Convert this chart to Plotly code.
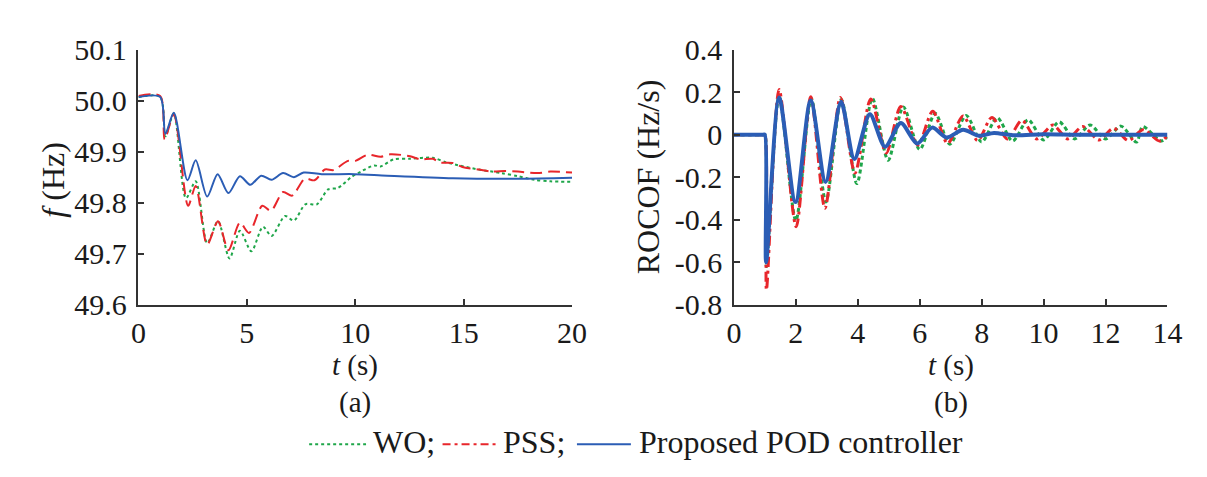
import plotly.graph_objects as go

# ---------------- data: (a) frequency ----------------
t_pod_f = [0, 1.0, 1.24, 1.63, 2.26, 2.64, 3.17, 3.65, 4.15, 4.68, 5.16, 5.66, 6.14, 6.67, 7.17, 7.62, 8.45, 9.96, 11.47, 14.5, 17.5, 20]
f_pod = [50.007, 50.007, 49.935, 49.976, 49.844, 49.883, 49.812, 49.856, 49.819, 49.852, 49.835, 49.853, 49.845, 49.858, 49.850, 49.859, 49.856, 49.856, 49.853, 49.848, 49.847, 49.849]

t_pss_f = [0, 1.0, 1.21, 1.63, 2.29, 2.64, 3.17, 3.67, 4.15, 4.68, 5.10, 5.71, 6.11, 6.67, 7.09, 7.67, 8.12, 8.6, 9.0, 9.66, 10.0, 10.57, 11.17, 11.62, 12.53, 12.98, 13.58, 13.89, 14.49, 14.94, 15.7, 16.3, 16.9, 17.5, 18.4, 19.0, 20]
f_pss = [50.009, 50.009, 49.924, 49.973, 49.794, 49.833, 49.718, 49.764, 49.707, 49.761, 49.741, 49.794, 49.784, 49.821, 49.814, 49.847, 49.844, 49.865, 49.864, 49.882, 49.882, 49.894, 49.890, 49.895, 49.891, 49.885, 49.886, 49.879, 49.878, 49.870, 49.865, 49.861, 49.862, 49.861, 49.858, 49.861, 49.859]

t_wo_f = [0, 1.0, 1.24, 1.63, 2.19, 2.64, 3.17, 3.67, 4.2, 4.68, 5.21, 5.74, 6.14, 6.76, 7.17, 7.7, 8.23, 8.75, 9.2, 9.81, 10.26, 10.87, 11.17, 11.77, 12.53, 13.58, 14.19, 14.79, 15.7, 16.75, 17.5, 18.26, 19.0, 20]
f_wo = [50.007, 50.007, 49.930, 49.975, 49.809, 49.842, 49.721, 49.764, 49.691, 49.745, 49.705, 49.753, 49.735, 49.774, 49.765, 49.797, 49.797, 49.826, 49.829, 49.850, 49.861, 49.873, 49.871, 49.885, 49.886, 49.888, 49.879, 49.873, 49.865, 49.858, 49.852, 49.845, 49.842, 49.841]

# ---------------- data: (b) ROCOF ----------------
t_pod_r = [0, 0.95, 1.0, 1.04, 1.46, 1.99, 2.48, 2.96, 3.46, 3.89, 4.39, 4.88, 5.39, 5.92, 6.40, 6.87, 7.4, 7.9, 8.4, 9.0, 10.0, 11.0, 12.0, 13.0, 14.0]
r_pod = [0, 0, 0, -0.60, 0.175, -0.317, 0.161, -0.223, 0.154, -0.115, 0.096, -0.057, 0.055, -0.042, 0.033, -0.013, 0.023, -0.005, 0.008, -0.003, 0.002, 0.0, 0.0, 0.0, 0.0]

t_pss_r = [0, 0.95, 1.0, 1.05, 1.46, 2.01, 2.48, 2.94, 3.44, 3.91, 4.42, 4.92, 5.39, 5.94, 6.42, 6.9, 7.4, 7.87, 8.33, 8.83, 9.3, 9.78, 10.3, 10.78, 11.26, 11.79, 12.26, 12.74, 13.21, 13.74, 14.0]
r_pss = [0, 0, 0, -0.73, 0.212, -0.433, 0.178, -0.346, 0.175, -0.18, 0.168, -0.086, 0.132, -0.049, 0.11, -0.042, 0.088, -0.028, 0.081, -0.02, 0.067, -0.02, 0.045, -0.02, 0.038, -0.025, 0.03, -0.028, 0.023, -0.03, -0.006]

t_wo_r = [0, 0.95, 1.0, 1.05, 1.46, 2.0, 2.5, 2.97, 3.47, 3.97, 4.47, 4.98, 5.47, 6.0, 6.5, 6.97, 7.5, 8.0, 8.5, 9.0, 9.5, 10.0, 10.5, 11.0, 11.5, 12.0, 12.5, 13.0, 13.2, 13.8, 14.0]
r_wo = [0, 0, 0, -0.62, 0.18, -0.404, 0.17, -0.317, 0.165, -0.23, 0.17, -0.12, 0.13, -0.07, 0.10, -0.045, 0.09, -0.035, 0.08, -0.03, 0.07, -0.025, 0.06, -0.02, 0.045, -0.02, 0.04, -0.035, 0.038, -0.03, -0.01]

# tick labels
f_ticks = [49.6, 49.7, 49.8, 49.9, 50.0, 50.1]
f_ticktext = ["49.6", "49.7", "49.8", "49.9", "50.0", "50.1"]
r_ticks = [-0.8, -0.6, -0.4, -0.2, 0, 0.2, 0.4]
r_ticktext = ["-0.8", "-0.6", "-0.4", "-0.2", "0", "0.2", "0.4"]
ta_ticks = [0, 5, 10, 15, 20]
tb_ticks = [0, 2, 4, 6, 8, 10, 12, 14]

legend_labels = ["WO;", "PSS;", "Proposed POD controller"]

GREEN = "#1fa64a"
RED = "#e8262b"
BLUE = "#2b5db5"
FONT = "Liberation Serif, Times New Roman, serif"
TXT = "#1a1a1a"

fig = go.Figure()

# (a)
fig.add_trace(go.Scatter(x=t_wo_f, y=f_wo, mode="lines", name=legend_labels[0], line=dict(color=GREEN, dash="3px,3px", width=2, shape="spline", smoothing=0.8), xaxis="x", yaxis="y"))
fig.add_trace(go.Scatter(x=t_pss_f, y=f_pss, mode="lines", name=legend_labels[1], line=dict(color=RED, dash="12px,6px", width=2, shape="spline", smoothing=0.8), xaxis="x", yaxis="y"))
fig.add_trace(go.Scatter(x=t_pod_f, y=f_pod, mode="lines", name=legend_labels[2], line=dict(color=BLUE, width=2, shape="spline", smoothing=0.8), xaxis="x", yaxis="y"))

# (b)
fig.add_trace(go.Scatter(x=t_wo_r, y=r_wo, mode="lines", name=legend_labels[0], line=dict(color=GREEN, dash="4px,3px", width=3, shape="spline", smoothing=0.8), xaxis="x2", yaxis="y2"))
fig.add_trace(go.Scatter(x=t_pss_r, y=r_pss, mode="lines", name=legend_labels[1], line=dict(color=RED, dash="10px,4px,3px,4px", width=3, shape="spline", smoothing=0.8), xaxis="x2", yaxis="y2"))
fig.add_trace(go.Scatter(x=t_pod_r, y=r_pod, mode="lines", name=legend_labels[2], line=dict(color=BLUE, width=4, shape="spline", smoothing=0.8), xaxis="x2", yaxis="y2"))

W, H = 1207, 477
ax_common = dict(showline=True, linecolor="#333333", linewidth=1.5, mirror=False,
                 ticks="inside", ticklen=6, tickwidth=1.5, tickcolor="#333333",
                 showgrid=False, zeroline=False,
                 tickfont=dict(family=FONT, size=30, color=TXT))

fig.update_layout(
    width=W, height=H,
    margin=dict(l=0, r=0, t=0, b=0),
    paper_bgcolor="white", plot_bgcolor="white",
    font=dict(family=FONT, size=30, color=TXT),
    xaxis=dict(domain=[133 / W, 575 / W], range=[0, 20], tickvals=ta_ticks, anchor="y", **ax_common),
    yaxis=dict(domain=[1 - 310 / H, 1 - 35 / H], range=[49.6, 50.1], tickvals=f_ticks, ticktext=f_ticktext, anchor="x", ticklabelstandoff=4, **ax_common),
    xaxis2=dict(domain=[740 / W, 1182 / W], range=[0, 14], tickvals=tb_ticks, anchor="y2", **ax_common),
    yaxis2=dict(domain=[1 - 310 / H, 1 - 35 / H], range=[-0.8, 0.4], tickvals=r_ticks, ticktext=r_ticktext, anchor="x2", ticklabelstandoff=4, **ax_common),
    showlegend=False,
)

annots = [
    dict(x=354 / W, y=1 - 375 / H, text="<i>t</i> (s)", size=29),
    dict(x=354 / W, y=1 - 415 / H, text="(a)", size=29),
    dict(x=961 / W, y=1 - 375 / H, text="<i>t</i> (s)", size=29),
    dict(x=961 / W, y=1 - 415 / H, text="(b)", size=29),
    dict(x=45 / W, y=1 - 175 / H, text="<i>f</i> (Hz)", textangle=-90, size=32),
    dict(x=652 / W, y=1 - 172 / H, text="ROCOF (Hz/s)", textangle=-90, size=32),
]
for a in annots:
    size = a.pop("size")
    fig.add_annotation(xref="paper", yref="paper", xanchor="center", yanchor="middle",
                       showarrow=False, font=dict(family=FONT, size=size, color=TXT), **a)

# custom legend (sample line + label), laid out like the reference
leg_items = [
    (307, 365, 370, GREEN, "3px,3px", legend_labels[0]),
    (443, 498, 503, RED, "8px,4px,3px,4px", legend_labels[1]),
    (580, 635, 641, BLUE, "solid", legend_labels[2]),
]
ly = 1 - 460 / H
for x0, x1, xt, col, dash, lab in leg_items:
    fig.add_shape(type="line", xref="paper", yref="paper", x0=x0 / W, x1=x1 / W, y0=ly, y1=ly,
                  line=dict(color=col, width=2, dash=dash))
    fig.add_annotation(xref="paper", yref="paper", x=xt / W, y=1 - 458 / H, xanchor="left", yanchor="middle",
                       text=lab, showarrow=False, font=dict(family=FONT, size=32, color=TXT))

fig.write_html("out.html")
